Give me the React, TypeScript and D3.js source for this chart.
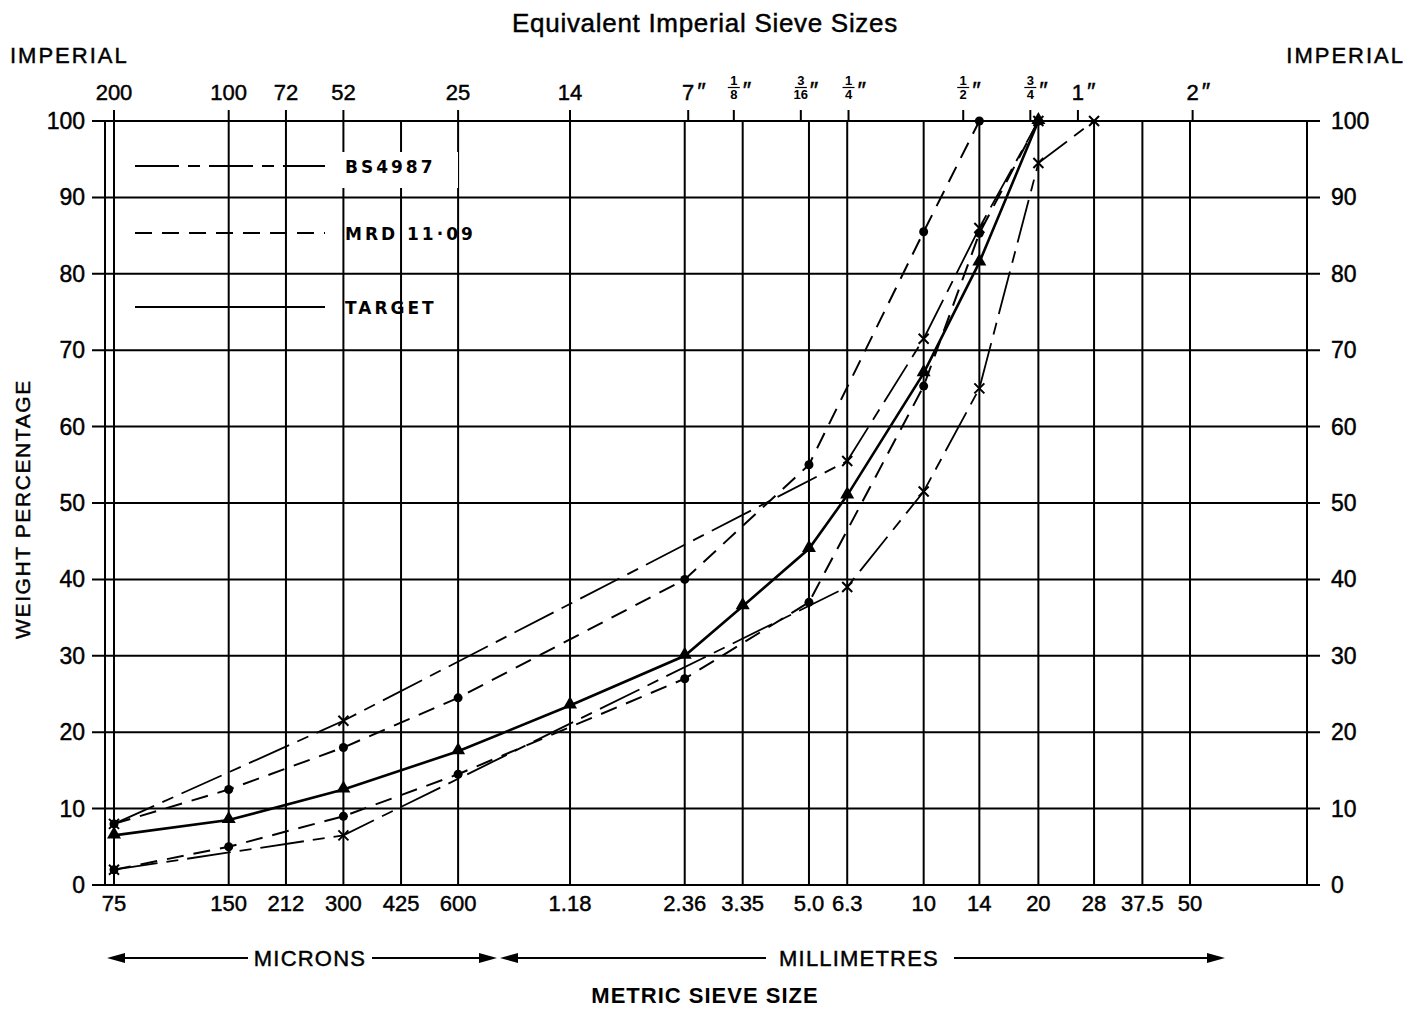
import React from 'react';
import * as d3 from 'd3';

// ---- data ----
const metricSieves = [0.075, 0.15, 0.212, 0.3, 0.425, 0.6, 1.18, 2.36, 3.35, 5.0, 6.3, 10, 14, 20, 28, 37.5, 50];
const metricLabels = ['75', '150', '212', '300', '425', '600', '1.18', '2.36', '3.35', '5.0', '6.3', '10', '14', '20', '28', '37.5', '50'];
const imperialSizes = [0.075, 0.15, 0.212, 0.3, 0.6, 1.18, 2.41, 3.175, 4.76, 6.35, 12.7, 19.05, 25.4, 50.8];
const imperialLabels = ['200', '100', '72', '52', '25', '14', '7″', '1/8″', '3/16″', '1/4″', '1/2″', '3/4″', '1″', '2″'];
const yTicks = [0, 10, 20, 30, 40, 50, 60, 70, 80, 90, 100];

const bsUpperSizes = [0.075, 0.3, 6.3, 10, 14, 20];
const bsUpperValues = [8, 21.5, 55.5, 71.5, 86, 100];
const bsLowerSizes = [0.075, 0.3, 6.3, 10, 14, 20, 28];
const bsLowerValues = [2, 6.5, 39, 51.5, 65, 94.5, 100];
const mrdUpperSizes = [0.075, 0.15, 0.3, 0.6, 2.36, 5.0, 10, 14];
const mrdUpperValues = [8, 12.5, 18, 24.5, 40, 55, 85.5, 100];
const mrdLowerSizes = [0.075, 0.15, 0.3, 0.6, 2.36, 5.0, 10, 14, 20];
const mrdLowerValues = [2, 5, 9, 14.5, 27, 37, 65.3, 85.3, 100];
const targetSizes = [0.075, 0.15, 0.3, 0.6, 1.18, 2.36, 3.35, 5.0, 6.3, 10, 14, 20];
const targetValues = [6.5, 8.5, 12.5, 17.5, 23.5, 30, 36.5, 44, 51, 67, 81.5, 100];

const legendLabels = ['BS4987', 'MRD 11·09', 'TARGET'];

// ---- layout ----
const W = 1423, H = 1009;
const TOP = 121, BOTTOM = 885;
const LEFT_BORDER = 105, RIGHT_BORDER = 1307;
const GRID_L = 92, GRID_R = 1320;
const FONT = '"Liberation Sans", Arial, sans-serif';
const TS = { stroke: '#000', strokeWidth: 0.45 };

const x = d3.scaleLog().domain([0.075, 50]).range([114, 1190]);
const y = d3.scaleLinear().domain([0, 100]).range([BOTTOM, TOP]);

const BS_DASH = '44 9 12 9';
const MRD_DASH = '17 10';

function pts(sizes: number[], vals: number[]): [number, number][] {
  return sizes.map((s, i) => [x(s), y(vals[i])]);
}

const line = d3.line<[number, number]>().x(d => d[0]).y(d => d[1]);

function Cross({ cx, cy }: { cx: number; cy: number }) {
  const r = 5;
  return (
    <path d={`M${cx - r},${cy - r}L${cx + r},${cy + r}M${cx - r},${cy + r}L${cx + r},${cy - r}`} stroke="#000" strokeWidth={2} />
  );
}

function Tri({ cx, cy }: { cx: number; cy: number }) {
  const sym = d3.symbol().type(d3.symbolTriangle).size(85)();
  return <path d={sym || ''} transform={`translate(${cx},${cy - 1})`} fill="#000" />;
}

function ImperialLabel({ label, px }: { label: string; px: number }) {
  const inch = label.endsWith('″');
  const core = inch ? label.slice(0, -1) : label;
  if (core.includes('/')) {
    const [n, d] = core.split('/');
    return (
      <g fontFamily={FONT} fill="#000">
        <text x={px} y={85} fontSize={13} textAnchor="middle" fontWeight="bold">{n}</text>
        <line x1={px - 6} x2={px + 6} y1={87.5} y2={87.5} stroke="#000" strokeWidth={1.2} />
        <text x={px} y={99} fontSize={13} textAnchor="middle" fontWeight="bold">{d}</text>
        <text x={px + 9} y={99} fontSize={24} {...TS}>″</text>
      </g>
    );
  }
  return (
    <g fontFamily={FONT} fill="#000">
      <text x={px} y={100} fontSize={22} textAnchor="middle" {...TS}>{core}</text>
      {inch && <text x={px + 9} y={100} fontSize={24} {...TS}>″</text>}
    </g>
  );
}

export default function App() {
  const bsU = pts(bsUpperSizes, bsUpperValues);
  const bsL = pts(bsLowerSizes, bsLowerValues);
  const mU = pts(mrdUpperSizes, mrdUpperValues);
  const mL = pts(mrdLowerSizes, mrdLowerValues);
  const tg = pts(targetSizes, targetValues);

  const legendY = [166, 233, 307];
  const legendDash = [BS_DASH, MRD_DASH, undefined];

  return (
    <svg width={W} height={H} style={{ position: 'absolute', left: 0, top: 0, background: '#fff' }}>
      <rect x={0} y={0} width={W} height={H} fill="#fff" />
      {/* titles */}
      <text x={705} y={32} fontSize={26} letterSpacing={0.7} textAnchor="middle" fontFamily={FONT} {...TS}>Equivalent Imperial Sieve Sizes</text>
      <text x={10} y={63} fontSize={22} letterSpacing={2} fontFamily={FONT} {...TS}>IMPERIAL</text>
      <text x={1405} y={63} fontSize={22} letterSpacing={2} textAnchor="end" fontFamily={FONT} {...TS}>IMPERIAL</text>

      {/* horizontal gridlines */}
      {yTicks.map(t => (
        <line key={'h' + t} x1={GRID_L} x2={GRID_R} y1={y(t)} y2={y(t)} stroke="#000" strokeWidth={2} />
      ))}
      {/* borders */}
      <line x1={LEFT_BORDER} x2={LEFT_BORDER} y1={TOP} y2={BOTTOM} stroke="#000" strokeWidth={2} />
      <line x1={RIGHT_BORDER} x2={RIGHT_BORDER} y1={TOP} y2={BOTTOM} stroke="#000" strokeWidth={2} />
      {/* metric vertical lines */}
      {metricSieves.map(s => (
        <line key={'v' + s} x1={x(s)} x2={x(s)} y1={TOP} y2={BOTTOM} stroke="#000" strokeWidth={2} />
      ))}
      {/* imperial ticks */}
      {imperialSizes.map(s => (
        <line key={'it' + s} x1={x(s)} x2={x(s)} y1={TOP - 11} y2={TOP} stroke="#000" strokeWidth={2} />
      ))}
      {imperialSizes.map((s, i) => (
        <ImperialLabel key={'il' + s} label={imperialLabels[i]} px={x(s)} />
      ))}

      {/* y labels */}
      {yTicks.map(t => (
        <text key={'yl' + t} x={85} y={y(t) + 8} fontSize={23} textAnchor="end" fontFamily={FONT} {...TS}>{t}</text>
      ))}
      {yTicks.map(t => (
        <text key={'yr' + t} x={1331} y={y(t) + 8} fontSize={23} textAnchor="start" fontFamily={FONT} {...TS}>{t}</text>
      ))}
      <text transform={`translate(30,${(TOP + BOTTOM) / 2 + 6}) rotate(-90)`} fontSize={21} letterSpacing={1.6} textAnchor="middle" fontFamily={FONT} {...TS}>WEIGHT PERCENTAGE</text>

      {/* x labels */}
      {metricSieves.map((s, i) => (
        <text key={'xl' + s} x={x(s)} y={911} fontSize={22} textAnchor="middle" fontFamily={FONT} {...TS}>{metricLabels[i]}</text>
      ))}

      {/* legend */}
      <rect x={338} y={152} width={120} height={36} fill="#fff" />
      {legendLabels.map((l, i) => (
        <g key={l}>
          <line x1={135} x2={325} y1={legendY[i]} y2={legendY[i]} stroke="#000" strokeWidth={2.2} strokeDasharray={legendDash[i]} />
          <text x={345} y={legendY[i] + 7} fontSize={17} letterSpacing={3} fontFamily='"DejaVu Sans", sans-serif' fontWeight="bold">{l}</text>
        </g>
      ))}

      {/* series lines */}
      <path d={line(bsU) || ''} fill="none" stroke="#000" strokeWidth={1.8} strokeDasharray={BS_DASH} />
      <path d={line(bsL) || ''} fill="none" stroke="#000" strokeWidth={1.8} strokeDasharray={BS_DASH} />
      <path d={line(mU) || ''} fill="none" stroke="#000" strokeWidth={2} strokeDasharray={MRD_DASH} />
      <path d={line(mL) || ''} fill="none" stroke="#000" strokeWidth={2} strokeDasharray={MRD_DASH} />
      <path d={line(tg) || ''} fill="none" stroke="#000" strokeWidth={2.6} />

      {/* markers */}
      {bsU.map((p, i) => <Cross key={'bu' + i} cx={p[0]} cy={p[1]} />)}
      {bsL.map((p, i) => <Cross key={'bl' + i} cx={p[0]} cy={p[1]} />)}
      {mU.map((p, i) => <circle key={'mu' + i} cx={p[0]} cy={p[1]} r={4.5} fill="#000" />)}
      {mL.map((p, i) => <circle key={'ml' + i} cx={p[0]} cy={p[1]} r={4.5} fill="#000" />)}
      {tg.map((p, i) => <Tri key={'t' + i} cx={p[0]} cy={p[1]} />)}

      {/* bottom arrows */}
      <g stroke="#000" strokeWidth={2} fill="#000">
        <line x1={120} x2={248} y1={958} y2={958} />
        <line x1={372} x2={482} y1={958} y2={958} />
        <line x1={514} x2={766} y1={958} y2={958} />
        <line x1={954} x2={1210} y1={958} y2={958} />
        <path d="M107,958L125,953L125,963Z" stroke="none" />
        <path d="M497,958L479,953L479,963Z" stroke="none" />
        <path d="M500,958L518,953L518,963Z" stroke="none" />
        <path d="M1225,958L1207,953L1207,963Z" stroke="none" />
      </g>
      <text x={310} y={966} fontSize={22} letterSpacing={1.2} textAnchor="middle" fontFamily={FONT} {...TS}>MICRONS</text>
      <text x={859} y={966} fontSize={22} letterSpacing={1.2} textAnchor="middle" fontFamily={FONT} {...TS}>MILLIMETRES</text>
      <text x={705} y={1003} fontSize={22} letterSpacing={1} textAnchor="middle" fontFamily={FONT} fontWeight="bold">METRIC SIEVE SIZE</text>
    </svg>
  );
}
